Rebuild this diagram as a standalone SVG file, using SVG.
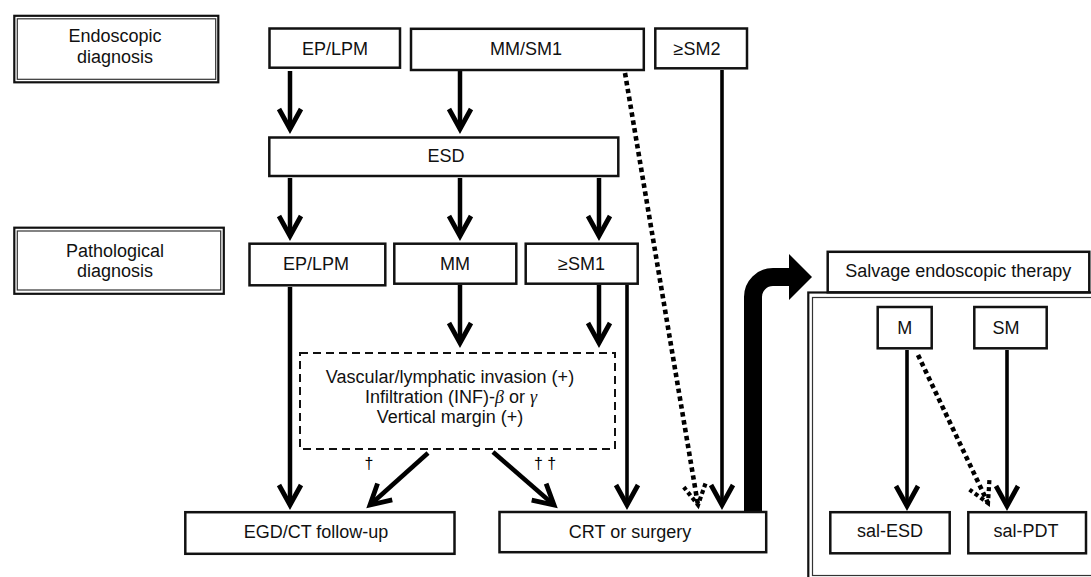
<svg xmlns="http://www.w3.org/2000/svg" width="1091" height="577" viewBox="0 0 1091 577">
  <defs>
    <style>
      text { font-family: "Liberation Sans", Arial, sans-serif; font-size: 18px; fill: #111; text-anchor: middle; }
      .box { fill: #fff; stroke: #111; stroke-width: 2.5; }
      .frame-out { fill: #fff; stroke: #111; stroke-width: 2.2; }
      .frame-in { fill: none; stroke: #333; stroke-width: 1.2; }
      .dash-box { fill: #fff; stroke: #111; stroke-width: 2; stroke-dasharray: 8 5; }
      .arrow { fill: none; stroke: #000; stroke-width: 4.5; marker-end: url(#chev); }
      .arrow-thin { fill: none; stroke: #000; stroke-width: 3.6; marker-end: url(#chev); }
      .dotted { fill: none; stroke: #000; stroke-width: 4.6; stroke-dasharray: 4.5 3.5; marker-end: url(#chev-dot); }
      .greek { font-family: "Liberation Serif", "Times New Roman", serif; font-style: italic; }
      .dagger { font-size: 16px; fill: #000; }
    </style>
    <marker id="chev" markerUnits="userSpaceOnUse" viewBox="-26 -16 32 32" markerWidth="32" markerHeight="32" refX="0" refY="0" orient="auto" overflow="visible">
      <path d="M-20 -11 L0 0 L-20 11" fill="none" stroke="#000" stroke-width="4.8"/>
    </marker>
    <marker id="chev-dot" markerUnits="userSpaceOnUse" viewBox="-26 -16 32 32" markerWidth="32" markerHeight="32" refX="0" refY="0" orient="auto" overflow="visible">
      <path d="M-20 -11 L0 0 L-20 11" fill="none" stroke="#000" stroke-width="4.2" stroke-dasharray="4 3"/>
    </marker>
  </defs>

  <rect width="1091" height="577" fill="#fff"/>

  <!-- frame around the salvage options, drawn first so its arrows sit on top -->
  <g id="salvage-frame">
    <rect x="808.3" y="292.5" width="290" height="288" fill="none" stroke="#111" stroke-width="2.2"/>
    <rect class="frame-in" x="812.5" y="297.5" width="285" height="278"/>
  </g>

  <!-- connectors -->
  <g id="connectors">
    <path class="arrow" d="M290 71 V129"/>
    <path class="arrow" d="M460 71 V129"/>
    <path class="dotted" d="M625 73 L698 505"/>
    <path class="arrow-thin" d="M722 70 V505"/>
    <path class="arrow" d="M290 178 V236"/>
    <path class="arrow" d="M460 178 V236"/>
    <path class="arrow" d="M599 178 V236"/>
    <path class="arrow" d="M290 287 V505"/>
    <path class="arrow" d="M460 285 V343"/>
    <path class="arrow" d="M599 285 V343"/>
    <path class="arrow-thin" d="M627 285 V505"/>
    <path class="arrow" d="M428 453 L370 505"/>
    <path class="arrow" d="M493 452 L554 505"/>
    <!-- salvage branch -->
    <path d="M753 512 V297 A20 20 0 0 1 773 277 H792" fill="none" stroke="#000" stroke-width="18"/>
    <polygon points="789,254 812,277 789,300" fill="#000"/>
    <path class="arrow-thin" d="M907 350 V506"/>
    <path class="arrow-thin" d="M1007 350 V506"/>
    <path class="dotted" d="M918 355 L988 503"/>
  </g>

  <!-- row labels -->
  <g id="label-endoscopic">
    <rect class="frame-out" x="14.3" y="15.8" width="204" height="66.5"/>
    <rect class="frame-in" x="17.3" y="18.8" width="198.4" height="60.5"/>
    <text x="115" y="42">Endoscopic</text>
    <text x="115" y="63">diagnosis</text>
  </g>
  <g id="label-pathological">
    <rect class="frame-out" x="14.3" y="227.7" width="209.5" height="66.1"/>
    <rect class="frame-in" x="17.3" y="231" width="203.4" height="59"/>
    <text x="115" y="257.3">Pathological</text>
    <text x="115" y="277.3">diagnosis</text>
  </g>

  <!-- endoscopic diagnosis -->
  <g id="endo-ep-lpm">
    <rect class="box" x="269.5" y="28.5" width="130.5" height="39.2"/>
    <text x="335" y="54.5">EP/LPM</text>
  </g>
  <g id="endo-mm-sm1">
    <rect class="box" x="411" y="28.8" width="232.8" height="41.2"/>
    <text x="526" y="54.5">MM/SM1</text>
  </g>
  <g id="endo-sm2">
    <rect class="box" x="655.3" y="28.5" width="91.7" height="39.8"/>
    <text x="697" y="54.5">≥SM2</text>
  </g>

  <g id="esd">
    <rect class="box" x="269.3" y="137.5" width="349" height="38.5"/>
    <text x="446" y="161.7">ESD</text>
  </g>

  <!-- pathological diagnosis -->
  <g id="path-ep-lpm">
    <rect class="box" x="249.5" y="243.7" width="135.8" height="41.6"/>
    <text x="316" y="270">EP/LPM</text>
  </g>
  <g id="path-mm">
    <rect class="box" x="394.3" y="243.7" width="122" height="40"/>
    <text x="455" y="270">MM</text>
  </g>
  <g id="path-sm1">
    <rect class="box" x="525.7" y="243.7" width="112" height="40"/>
    <text x="581.5" y="270">≥SM1</text>
  </g>

  <g id="risk-factors">
    <rect class="dash-box" x="300" y="353" width="315" height="96"/>
    <text x="450" y="383">Vascular/lymphatic invasion (+)</text>
    <text x="451" y="403">Infiltration (INF)-<tspan class="greek">β</tspan> or <tspan class="greek">γ</tspan></text>
    <text x="450" y="423">Vertical margin (+)</text>
  </g>
  <g id="daggers">
    <text class="dagger" x="369" y="469">†</text>
    <text class="dagger" x="545" y="469">† †</text>
  </g>

  <g id="egd-ct">
    <rect class="box" x="185.3" y="512.2" width="269.2" height="41.6"/>
    <text x="316" y="538.3">EGD/CT follow-up</text>
  </g>
  <g id="crt-surgery">
    <rect class="box" x="499.5" y="512" width="266.7" height="40.2"/>
    <text x="630" y="538">CRT or surgery</text>
  </g>

  <!-- salvage endoscopic therapy -->
  <g id="salvage">
    <rect class="box" x="827.7" y="251.8" width="261.6" height="40.5"/>
    <text x="958.3" y="276.5">Salvage endoscopic therapy</text>
  </g>
  <g id="sal-m">
    <rect class="box" x="877.7" y="307" width="54" height="41.3"/>
    <text x="904.7" y="334.3">M</text>
  </g>
  <g id="sal-sm">
    <rect class="box" x="974.3" y="307" width="72.4" height="41.3"/>
    <text x="1006" y="334.3">SM</text>
  </g>
  <g id="sal-esd">
    <rect class="box" x="830.3" y="512.2" width="119.4" height="41.1"/>
    <text x="890" y="537">sal-ESD</text>
  </g>
  <g id="sal-pdt">
    <rect class="box" x="968.3" y="512.2" width="117.7" height="41.1"/>
    <text x="1026" y="537">sal-PDT</text>
  </g>
</svg>
